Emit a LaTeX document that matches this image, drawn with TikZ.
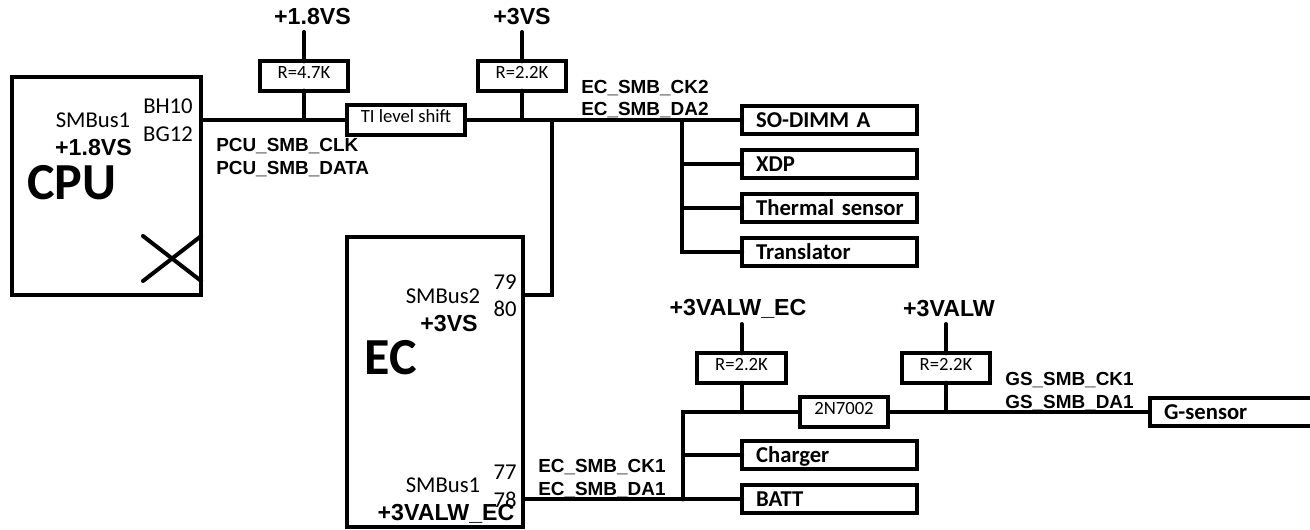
\documentclass[tikz,border=0pt]{standalone}
\usepackage{fontspec}
\setmainfont{Carlito}
\newfontfamily\arialfont{Liberation Sans}
\usetikzlibrary{calc,positioning}
\tikzset{
  busline/.style={line width=3pt,line cap=round},
  chipbox/.style={draw,line width=3pt,rectangle,outer sep=0pt,inner sep=0pt},
  resbox/.style={chipbox,minimum width=66.5pt,minimum height=22pt,
    text height=9pt,text depth=4.5pt,font=\fontsize{14}{14}\selectfont},
  devbox/.style={chipbox,minimum height=21pt,align=left,text width=131pt,
    text height=11pt,text depth=0pt,font=\bfseries\fontsize{17}{17}\selectfont,
    execute at begin node={\leavevmode\hskip10.5pt}},
  railtext/.style={inner sep=0pt,font=\arialfont\bfseries\fontsize{17.4}{17.4}\selectfont},
  nettext/.style={anchor=west,inner sep=0pt,font=\arialfont\bfseries\fontsize{14.2}{14.2}\selectfont},
  pintext/.style={inner sep=0pt,font=\fontsize{17}{17}\selectfont},
  chipname/.style={inner sep=0pt,font=\bfseries\fontsize{39}{39}\selectfont},
}
% #1 name, #2 x, #3 label y, #4 label x, #5 rail, #6 resistor y, #7 value
\newcommand{\pullup}[7]{%
  \node[railtext] (#1rail) at (#4,#3) {#5};
  \node[resbox] (#1res) at (#2,#6) {#7};
  \coordinate (#1top) at (#2,#3+15);
  \draw[busline] (#1top) -- (#1res.north);
}

\begin{document}
\begin{tikzpicture}[x=.75pt,y=-.75pt]
  \useasboundingbox (0,0) rectangle (1310,530);

  % chips
  \node[chipbox,minimum width=142pt,minimum height=163.5pt] (cpu) at (106.5,186) {};
  \node[chipbox,minimum width=132pt,minimum height=217.5pt] (ec) at (435,382) {};
  \node[pintext] (cpubus) at (93,120) {SMBus1};
  \node[pintext] (cpubh) at (168,106) {BH10};
  \node[pintext] (cpubg) at (168,134) {BG12};
  \node[railtext] (cpupwr) at (93.5,148) {+1.8VS};
  \node[chipname] (cpuname) at (72,183) {CPU};
  \coordinate (xa) at (143,236);
  \coordinate (xb) at (143,281);
  \draw[busline] (xa) -- (cpu.east |- xb);
  \draw[busline] (xb) -- (cpu.east |- xa);
  \node[pintext] (ecbustwo) at (443,296) {SMBus2};
  \node[pintext] (ecpinsvn) at (505,282) {79};
  \node[pintext] (ecpineit) at (505,309) {80};
  \node[railtext] (ecpwrtwo) at (449,324) {+3VS};
  \node[chipname] (ecname) at (390.5,358) {EC};
  \node[pintext] (ecbusone) at (443,485) {SMBus1};
  \node[pintext] (ecpinsev) at (505,472) {77};
  \node[pintext] (ecpinegt) at (505,500) {78};
  \node[railtext] (ecpwrone) at (446,514) {+3VALW\_EC};

  % upper bus
  \node[resbox,minimum width=88.5pt] (tishift) at (406,120) {TI level shift};
  \pullup{pcu}{304}{17}{312.5}{+1.8VS}{76}{R=4.7K}
  \pullup{ecs}{522}{17}{522}{+3VS}{76}{R=2.2K}
  \node[devbox] (sodimm) at (829.5,120) {SO-DIMM A};
  \node[devbox] (xdp) at (829.5,164) {XDP};
  \node[devbox] (thermal) at (829.5,208) {Thermal sensor};
  \node[devbox] (translator) at (829.5,252) {Translator};
  \coordinate (sobranch) at (682,120);
  \coordinate (ecdrop) at (552,295);
  \draw[busline] (cpu.east |- tishift.west) -- (tishift.west);
  \draw[busline] (pcures.south) -- (pcures.south |- tishift.west);
  \draw[busline] (tishift.east) -- (sodimm.west);
  \draw[busline] (ecsres.south) -- (ecsres.south |- tishift.east);
  \draw[busline] (ecdrop |- tishift.east) -- (ecdrop) -- (ec.east |- ecdrop);
  \draw[busline] (sobranch |- sodimm.west) -- (sobranch |- translator.west) -- (translator.west);
  \draw[busline] (sobranch |- xdp.west) -- (xdp.west);
  \draw[busline] (sobranch |- thermal.west) -- (thermal.west);
  \node[nettext] (pcuclk) at (216,146) {PCU\_SMB\_CLK};
  \node[nettext] (pcudata) at (216,169) {PCU\_SMB\_DATA};
  \node[nettext] (eckctwo) at (581,88) {EC\_SMB\_CK2};
  \node[nettext] (ecdatwo) at (581,110) {EC\_SMB\_DA2};

  % lower bus
  \node[resbox,minimum width=66pt] (fet) at (844,412) {2N7002};
  \pullup{alw}{741.5}{309}{738}{+3VALW\_EC}{368}{R=2.2K}
  \pullup{gsn}{946}{309}{949}{+3VALW}{368}{R=2.2K}
  \node[devbox] (charger) at (829.5,455.5) {Charger};
  \node[devbox] (batt) at (829.5,499.5) {BATT};
  \node[devbox,text width=232.5pt] (gsensor) at (1305,412) {G-sensor};
  \coordinate (battbranch) at (683,412);
  \draw[busline] (ec.east |- batt.west) -- (batt.west);
  \draw[busline] (battbranch |- batt.west) -- (battbranch) -- (fet.west);
  \draw[busline] (battbranch |- charger.west) -- (charger.west);
  \draw[busline] (alwres.south) -- (alwres.south |- fet.west);
  \draw[busline] (fet.east) -- (gsensor.west);
  \draw[busline] (gsnres.south) -- (gsnres.south |- fet.east);
  \node[nettext] (ecckone) at (538,467) {EC\_SMB\_CK1};
  \node[nettext] (ecdaone) at (538,490) {EC\_SMB\_DA1};
  \node[nettext] (gsck) at (1005,380) {GS\_SMB\_CK1};
  \node[nettext] (gsda) at (1005,403) {GS\_SMB\_DA1};
\end{tikzpicture}
\end{document}
